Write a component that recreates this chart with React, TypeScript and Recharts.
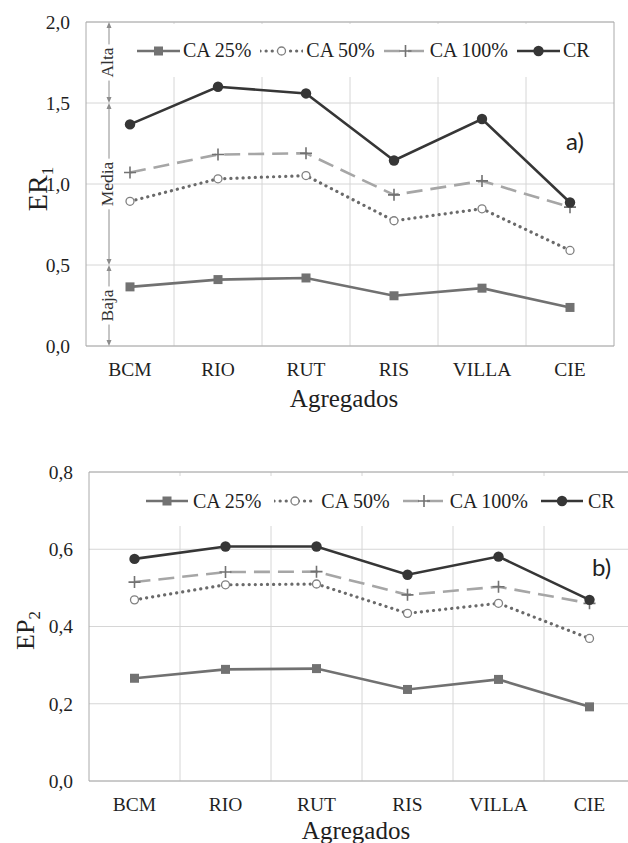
import React from 'react';
import { LineChart, Line, XAxis, YAxis, CartesianGrid, Legend, ReferenceArea } from 'recharts';

// categories and series
const CATEGORIES = ['BCM', 'RIO', 'RUT', 'RIS', 'VILLA', 'CIE'];
const SERIES_NAMES = ['CA 25%', 'CA 50%', 'CA 100%', 'CR'];
const SERIES_KEYS = ['ca25', 'ca50', 'ca100', 'cr'];

// a) ER1
const ER1_CA25 = [0.365, 0.41, 0.42, 0.31, 0.357, 0.238];
const ER1_CA50 = [0.893, 1.032, 1.052, 0.773, 0.847, 0.59];
const ER1_CA100 = [1.071, 1.182, 1.19, 0.933, 1.019, 0.857];
const ER1_CR = [1.368, 1.6, 1.559, 1.145, 1.401, 0.886];
const ER1_TICKS = [0, 0.5, 1, 1.5, 2];
const BAND_LABELS = ['Baja', 'Media', 'Alta'];
const BAND_LIMITS = [0, 0.5, 1.5, 2];

// b) EP2
const EP2_CA25 = [0.266, 0.289, 0.291, 0.237, 0.263, 0.192];
const EP2_CA50 = [0.469, 0.508, 0.51, 0.434, 0.46, 0.369];
const EP2_CA100 = [0.515, 0.541, 0.542, 0.482, 0.503, 0.46];
const EP2_CR = [0.575, 0.607, 0.607, 0.534, 0.581, 0.469];
const EP2_TICKS = [0, 0.2, 0.4, 0.6, 0.8];

const SERIF = 'Liberation Serif, serif';

const STYLES = [
  { color: '#717171', width: 2.6, dash: undefined, cap: 'butt', marker: 'square' },
  { color: '#6a6a6a', width: 3.2, dash: '0.1 6', cap: 'round', marker: 'ring' },
  { color: '#a6a6a6', width: 2.6, dash: '16 8', cap: 'butt', marker: 'plus' },
  { color: '#363636', width: 2.6, dash: undefined, cap: 'butt', marker: 'dot' },
];

const buildRows = (values: number[][]) =>
  CATEGORIES.map((cat, i) => {
    const row: Record<string, any> = { cat };
    SERIES_KEYS.forEach((k, j) => {
      row[k] = values[j][i];
    });
    return row;
  });

const ER1_ROWS = buildRows([ER1_CA25, ER1_CA50, ER1_CA100, ER1_CR]);
const EP2_ROWS = buildRows([EP2_CA25, EP2_CA50, EP2_CA100, EP2_CR]);

const fmt = (v: number) => v.toFixed(1).replace('.', ',');

const Marker = ({ kind, cx, cy }: { kind: string; cx: number; cy: number }) => {
  if (kind === 'square') return <rect x={cx - 4.5} y={cy - 4.5} width={9} height={9} fill="#727272" />;
  if (kind === 'ring') return <circle cx={cx} cy={cy} r={4} fill="#fff" stroke="#808080" strokeWidth={1.3} />;
  if (kind === 'plus')
    return <path d={`M${cx - 6},${cy}H${cx + 6}M${cx},${cy - 6}V${cy + 6}`} stroke="#727272" strokeWidth={1.6} />;
  return <circle cx={cx} cy={cy} r={5.2} fill="#363636" />;
};

const measureText = (text: string, font: string) => {
  const ctx = document.createElement('canvas').getContext('2d');
  if (!ctx) return text.length * 8;
  ctx.font = font;
  return ctx.measureText(text).width;
};

// double arrow with rotated label, drawn inside a ReferenceArea
const BandMark = (props: any) => {
  const { x, y, height, text } = props;
  const ax = x + 23;
  const top = y;
  const bot = y + height;
  const mid = y + height / 2;
  const half = measureText(text, `17.5px ${SERIF}`) / 2 + 3;
  const c = '#8c8c8c';
  return (
    <g>
      <line x1={ax} x2={ax} y1={top + 2} y2={mid - half} stroke={c} strokeWidth={1} />
      <line x1={ax} x2={ax} y1={mid + half} y2={bot - 2} stroke={c} strokeWidth={1} />
      <path d={`M${ax},${top}l${-2.5},6h5z`} fill={c} />
      <path d={`M${ax},${bot}l${-2.5},-6h5z`} fill={c} />
      <text
        x={ax + 4}
        y={mid}
        transform={`rotate(-90 ${ax + 4} ${mid})`}
        textAnchor="middle"
        fontFamily={SERIF}
        fontSize={17.5}
        fill="#333"
      >
        {text}
      </text>
    </g>
  );
};

const LegendRow = ({ pad, gap, iconW, iconGap }: any) => (
  <div
    style={{
      display: 'flex',
      alignItems: 'center',
      height: '100%',
      paddingLeft: pad,
      fontFamily: SERIF,
      fontSize: 20,
      color: '#1f1f1f',
      whiteSpace: 'nowrap',
      background: '#fff',
    }}
  >
    {STYLES.map((s, i) => (
      <div key={SERIES_KEYS[i]} style={{ display: 'flex', alignItems: 'center', marginRight: gap }}>
        <svg width={iconW} height={14} style={{ marginRight: iconGap }}>
          <line
            x1={0}
            x2={iconW}
            y1={7}
            y2={7}
            stroke={s.color}
            strokeWidth={s.width}
            strokeDasharray={s.dash}
            strokeLinecap={s.cap as any}
          />
          <Marker kind={s.marker} cx={iconW / 2} cy={7} />
        </svg>
        <span>{SERIES_NAMES[i]}</span>
      </div>
    ))}
  </div>
);

const Panel = (p: any) => {
  const domain = [p.ticks[0], p.ticks[p.ticks.length - 1]];
  return (
    <div style={{ position: 'absolute', left: 0, top: p.top }}>
      <LineChart width={p.width} height={p.height} data={p.rows} margin={p.margin}>
        <CartesianGrid
          stroke="#d6d6d6"
          verticalCoordinatesGenerator={({ offset }: any) =>
            CATEGORIES.slice(1).map((_, i) => offset.left + (offset.width * (i + 1)) / CATEGORIES.length)
          }
        />
        <ReferenceArea y1={domain[0]} y2={domain[1]} fill="none" stroke="#aaaaaa" strokeWidth={1} ifOverflow="visible" />
        {p.bands &&
          BAND_LABELS.map((b, i) => (
            <ReferenceArea
              key={b}
              y1={BAND_LIMITS[i]}
              y2={BAND_LIMITS[i + 1]}
              ifOverflow="visible"
              shape={(sp: any) => <BandMark {...sp} text={b} />}
            />
          ))}
        <XAxis
          dataKey="cat"
          scale="band"
          height={p.xHeight}
          axisLine={false}
          tickLine={false}
          tickSize={0}
          tickMargin={16}
          tick={{ fontFamily: SERIF, fontSize: 19.5, fill: '#1f1f1f' }}
          label={{
            content: ({ viewBox }: any) => (
              <text
                x={viewBox.x + viewBox.width / 2 - 6}
                y={viewBox.y + p.xLabelDy}
                textAnchor="middle"
                fontFamily={SERIF}
                fontSize={25}
                fill="#1f1f1f"
              >
                Agregados
              </text>
            ),
          }}
        />
        <YAxis
          type="number"
          domain={domain}
          ticks={p.ticks}
          width={p.yWidth}
          axisLine={false}
          tickLine={false}
          tickSize={0}
          tickMargin={16}
          tickFormatter={fmt}
          tick={{ fontFamily: SERIF, fontSize: 19.5, fill: '#1f1f1f' }}
          label={{
            content: ({ viewBox }: any) => {
              const cx = viewBox.x + p.yTitleX;
              const cy = viewBox.y + viewBox.height / 2 + p.yTitleShift;
              return (
                <text
                  x={cx}
                  y={cy}
                  transform={`rotate(-90 ${cx} ${cy})`}
                  textAnchor="middle"
                  fontFamily={SERIF}
                  fontSize={p.yTitleSize}
                  fill="#1f1f1f"
                >
                  {p.yTitle}
                  <tspan fontSize={17} dy={6}>
                    {p.ySub}
                  </tspan>
                </text>
              );
            },
          }}
        />
        <Legend
          layout="horizontal"
          verticalAlign="middle"
          align="center"
          wrapperStyle={{ ...p.legendBox, background: '#fff' }}
          content={() => <LegendRow {...p.legendRow} />}
        />
        {SERIES_KEYS.map((k, i) => {
          const s = STYLES[i];
          return (
            <Line
              key={k}
              dataKey={k}
              name={SERIES_NAMES[i]}
              stroke={s.color}
              strokeWidth={s.width}
              strokeDasharray={s.dash}
              strokeLinecap={s.cap as any}
              isAnimationActive={false}
              activeDot={false}
              dot={(dp: any) => <Marker key={`${k}-${dp.index}`} kind={s.marker} cx={dp.cx} cy={dp.cy} />}
            />
          );
        })}
      </LineChart>
      <div
        style={{
          position: 'absolute',
          left: p.tag.left,
          top: p.tag.top,
          fontFamily: 'Lato, "Open Sans", sans-serif',
          fontSize: 24,
          lineHeight: 1,
          color: '#1f1f1f',
        }}
      >
        {p.tag.text}
      </div>
    </div>
  );
};

export default function App() {
  return (
    <div
      style={{ position: 'absolute', left: 0, top: 0, width: 628, height: 843, overflow: 'hidden', background: '#fff' }}
    >
      <Panel
        top={0}
        width={628}
        height={420}
        rows={ER1_ROWS}
        ticks={ER1_TICKS}
        margin={{ top: 22, right: 14, bottom: 0, left: 0 }}
        yWidth={86}
        xHeight={74}
        xLabelDy={61}
        yTitle="ER"
        ySub="1"
        yTitleSize={28}
        yTitleX={47}
        yTitleShift={5}
        bands
        legendBox={{ top: 24, left: 125, width: 486, height: 53 }}
        legendRow={{ pad: 12, gap: 9, iconW: 43, iconGap: 3 }}
        tag={{ text: 'a)', left: 566, top: 129 }}
      />
      <Panel
        top={440}
        width={640}
        height={403}
        rows={EP2_ROWS}
        ticks={EP2_TICKS}
        margin={{ top: 32, right: 5, bottom: 0, left: 0 }}
        yWidth={89}
        xHeight={62}
        xLabelDy={58}
        yTitle="EP"
        ySub="2"
        yTitleSize={26}
        yTitleX={34}
        yTitleShift={4}
        bands={false}
        legendBox={{ top: 36, left: 120, width: 520, height: 50 }}
        legendRow={{ pad: 26, gap: 13, iconW: 42, iconGap: 5 }}
        tag={{ text: 'b)', left: 592, top: 115 }}
      />
    </div>
  );
}
